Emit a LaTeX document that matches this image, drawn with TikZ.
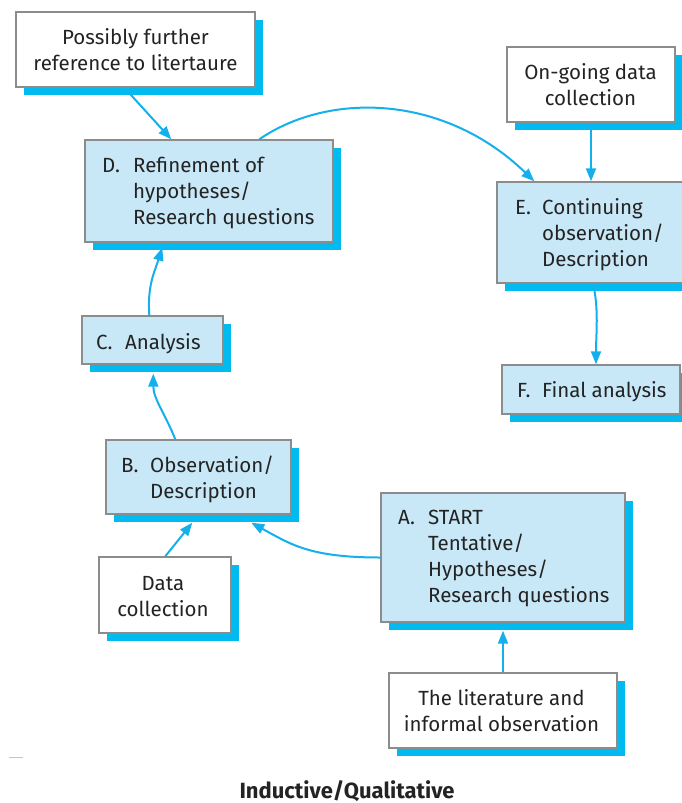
\documentclass[tikz,border=0pt]{standalone}
\usepackage{fontspec}
\setmainfont{Fira Sans}
\usetikzlibrary{arrows.meta,shadows}
\definecolor{boxfill}{RGB}{200,232,248}
\definecolor{shadowcyan}{RGB}{0,186,240}
\definecolor{arrowcyan}{RGB}{20,176,236}
\definecolor{boxline}{RGB}{140,140,140}
\definecolor{txt}{RGB}{35,35,35}
\begin{document}
\begin{tikzpicture}[x=1pt,y=-1pt,
 box/.style={draw=boxline, line width=1.4pt, inner sep=0pt,
   drop shadow={shadow xshift=8pt, shadow yshift=-8pt, fill=shadowcyan, opacity=1}},
 bluebox/.style={box, fill=boxfill},
 whitebox/.style={box, fill=white},
 lbl/.style={font=\fontsize{20.5}{26}\selectfont, text=txt, inner sep=0pt, align=left, anchor=base west},
 clbl/.style={lbl, align=center, anchor=base},
 arr/.style={draw=arrowcyan, line width=2pt, -{Triangle[length=13pt,width=10pt]}},
]
\useasboundingbox (0,0) rectangle (681,803);
% boxes
\node[whitebox, minimum width=239pt, minimum height=75pt] (P) at (135.5,49.5) {};
\node[bluebox, minimum width=248pt, minimum height=102pt] (D) at (209,191) {};
\node[whitebox, minimum width=168pt, minimum height=75pt] (O) at (591,84.5) {};
\node[bluebox, minimum width=186pt, minimum height=101pt] (E) at (590,232.5) {};
\node[bluebox, minimum width=178pt, minimum height=49pt] (F) at (591,389.5) {};
\node[bluebox, minimum width=141pt, minimum height=48pt] (C) at (152.5,340) {};
\node[bluebox, minimum width=185pt, minimum height=74pt] (B) at (198.5,477) {};
\node[whitebox, minimum width=132pt, minimum height=76pt] (DC) at (165,595) {};
\node[bluebox, minimum width=244pt, minimum height=129pt] (A) at (503,557.5) {};
\node[whitebox, minimum width=228pt, minimum height=75pt] (L) at (503,710.5) {};
% labels (base anchor = baseline of last line)
\node[clbl] (Pt) at (135.5,70) {Possibly further\\reference to litertaure};
\node[clbl] (Ot) at (590.5,105) {On-going data\\collection};
\node[lbl] (Dt) at (102,224) {\makebox[31pt][l]{D.}Refinement of\\\hspace*{31pt}hypotheses/\\\hspace*{31pt}Research questions};
\node[lbl] (Et) at (515,266) {\makebox[27pt][l]{E.}Continuing\\\hspace*{27pt}observation/\\\hspace*{27pt}Description};
\node[lbl] (Ft) at (517,397) {\makebox[25pt][l]{F.}Final analysis};
\node[lbl] (Ct) at (96,349) {\makebox[29pt][l]{C.}Analysis};
\node[lbl] (Bt) at (121,498) {\makebox[29pt][l]{B.}Observation/\\\hspace*{29pt}Description};
\node[clbl] (DCt) at (163,616) {Data\\collection};
\node[lbl] (At) at (398,602) {\makebox[30pt][l]{A.}START\\\hspace*{30pt}Tentative/\\\hspace*{30pt}Hypotheses/\\\hspace*{30pt}Research questions};
\node[clbl] (Lt) at (501.5,731) {The literature and\\informal observation};
\node[font=\bfseries\fontsize{22}{26}\selectfont, text=txt, inner sep=0pt, anchor=base] (cap) at (347,798) {Inductive/Qualitative};
% connectors
\draw[arr] ([xshift=109pt]P.south west) -- ([xshift=87pt]D.north west);
\draw[arr] ([xshift=175pt]D.north west) .. controls +(70,-48) and +(-90,-87) .. ([xshift=38pt]E.north west);
\draw[arr] (O.south) -- (O.south |- E.north);
\draw[arr] ([xshift=3pt]E.south) .. controls +(6,25) and +(0,-30) .. ([xshift=5pt]F.north);
\draw[arr] ([xshift=68pt]C.north west) .. controls +(-2,-30) and +(-8,25) .. ([xshift=78pt,yshift=-5pt]D.south west);
\draw[arr] ([xshift=70pt]B.north west) .. controls +(-10,-25) and +(0,25) .. ([xshift=72pt,yshift=-9pt]C.south west);
\draw[arr] ([xshift=67pt]DC.north west) -- ([xshift=87pt,yshift=-8pt]B.south west);
\draw[arr] (A.west) .. controls +(-70,0) and +(40,22) .. ([xshift=146pt,yshift=-8pt]B.south west);
\draw[arr] (L.north) -- ([yshift=-8pt]A.south);
\draw[arrowcyan!50, line width=0.8pt] (9,757) -- (23,757);
\end{tikzpicture}
\end{document}
